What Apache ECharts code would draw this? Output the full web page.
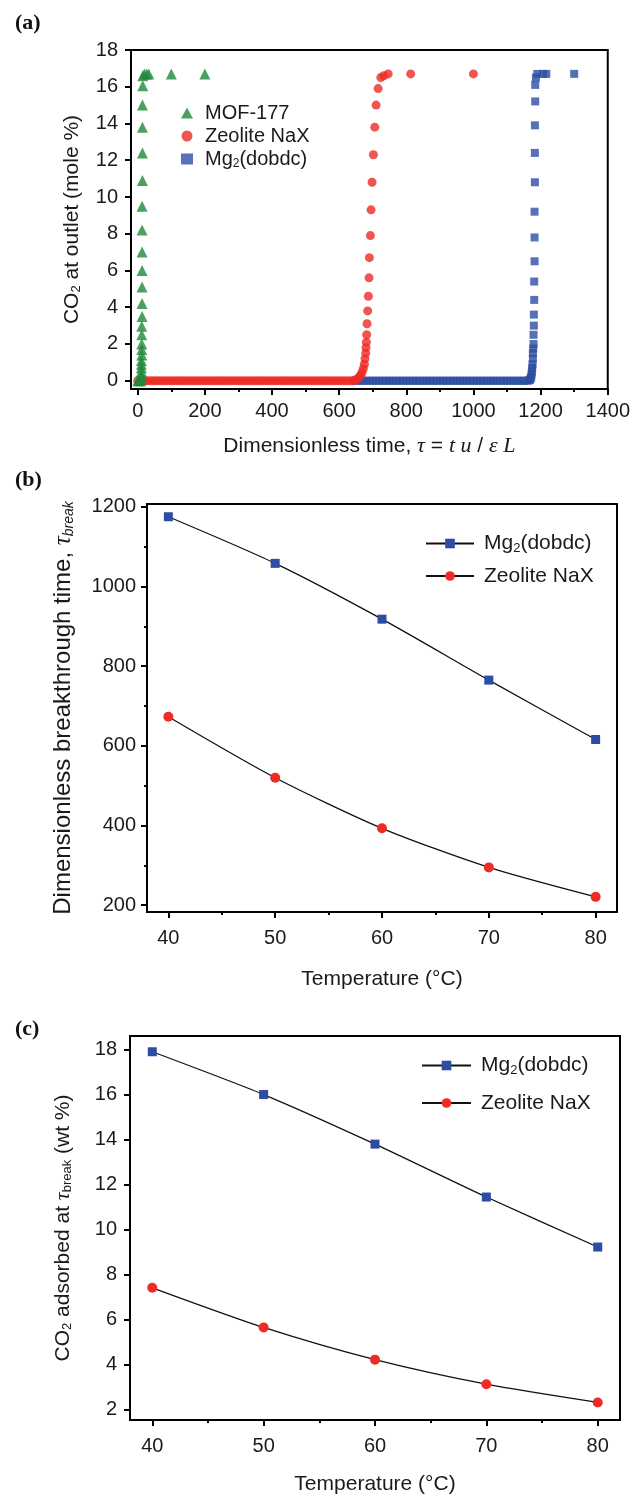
<!DOCTYPE html>
<html>
<head>
<meta charset="utf-8">
<script src="https://cdn.jsdelivr.net/npm/echarts@6/dist/echarts.min.js"></script>
<style>
  body { margin: 0; background: #fff; }
  .panel { position: absolute; left: 0; width: 633px; }
</style>
</head>
<body>
<div id="chartA" class="panel" style="top:0;height:462px"></div>
<div id="chartB" class="panel" style="top:462px;height:533px"></div>
<div id="chartC" class="panel" style="top:995px;height:505px"></div>
<script>
// ---------- panel (a): breakthrough curves, [tau, CO2 mole %] ----------
const mofCurve = [
  [0, 0], [4, 0], [8, 0], [10, 0.05], [10, 0.15], [11, 0.3], [11, 0.5], [11, 0.7], [11, 0.9],
  [11, 1.1], [12, 1.4], [12, 1.7], [12, 2.0], [12, 2.5], [12, 2.96], [13, 3.5], [13, 4.2],
  [13, 5.1], [13, 6.0], [13, 7.0], [13, 8.2], [13, 9.5], [14, 10.9], [14, 12.4], [14, 13.8],
  [14, 15.0], [15, 16.05], [15, 16.6], [20, 16.7], [27, 16.7], [33, 16.7], [100, 16.7], [200, 16.7]
];
// flat part of the NaX curve (y = 0)
const zeoliteBaseX = [
  0, 10, 20, 30, 40, 50, 60, 70, 80, 90, 100, 110, 120, 130, 140, 150, 160, 170, 180, 190,
  200, 210, 220, 230, 240, 250, 260, 270, 280, 290, 300, 310, 320, 330, 340, 350, 360, 370,
  380, 390, 400, 410, 420, 430, 440, 450, 460, 470, 480, 490, 500, 510, 520, 530, 540, 550,
  560, 570, 580, 590, 600, 610, 620, 630, 640
];
const zeoliteCurve = [
  [645, 0.02], [650, 0.05], [655, 0.1], [660, 0.2], [664, 0.3], [668, 0.45], [672, 0.65],
  [675, 0.9], [677, 1.2], [679, 1.5], [680, 1.8], [681, 2.1], [682, 2.5], [683, 3.1],
  [685, 3.8], [687, 4.6], [689, 5.6], [690, 6.7], [693, 7.9], [695, 9.3], [698, 10.8],
  [702, 12.3], [706, 13.8], [710, 15.0], [716, 15.9], [724, 16.5], [733, 16.6], [746, 16.7],
  [813, 16.7], [1000, 16.7]
];
// flat part of the Mg2(dobdc) curve (y = 0)
const mgBaseX = [
  650, 660, 670, 680, 690, 700, 710, 720, 730, 740, 750, 760, 770, 780, 790, 800, 810, 820,
  830, 840, 850, 860, 870, 880, 890, 900, 910, 920, 930, 940, 950, 960, 970, 980, 990, 1000,
  1010, 1020, 1030, 1040, 1050, 1060, 1070, 1080, 1090, 1100, 1110, 1120, 1130, 1140, 1150, 1160
];
const mgCurve = [
  [1165, 0.02], [1168, 0.05], [1170, 0.1], [1172, 0.2], [1173, 0.35], [1174, 0.5], [1175, 0.7],
  [1176, 0.9], [1177, 1.2], [1177, 1.5], [1178, 1.75], [1179, 2.0], [1179, 2.5], [1180, 3.0],
  [1180, 3.6], [1181, 4.4], [1181, 5.4], [1182, 6.5], [1182, 7.8], [1182, 9.2], [1183, 10.8],
  [1183, 12.4], [1183, 13.9], [1184, 15.2], [1184, 16.1], [1186, 16.5], [1190, 16.7],
  [1207, 16.7], [1217, 16.7], [1300, 16.7]
];
const tickA_x = [0, 200, 400, 600, 800, 1000, 1200, 1400];
const minorA_x = [100, 300, 500, 700, 900, 1100, 1300];
const tickA_y = [0, 2, 4, 6, 8, 10, 12, 14, 16, 18];

// ---------- panels (b) and (c): vs temperature ----------
const temps = [40, 50, 60, 70, 80];
const breakMg = [1175, 1058, 918, 765, 616];
const breakNaX = [673, 520, 393, 295, 221];
const adsMg = [17.9, 16.0, 13.8, 11.45, 9.23];
const adsNaX = [7.42, 5.66, 4.23, 3.14, 2.33];
const tickT = [40, 50, 60, 70, 80];
const minorT = [45, 55, 65, 75];
const tickB_y = [200, 400, 600, 800, 1000, 1200];
const minorB_y = [300, 500, 700, 900, 1100];
const tickC_y = [2, 4, 6, 8, 10, 12, 14, 16, 18];

const SANS = 'Liberation Sans, Arial, sans-serif';
const SERIF = 'Liberation Serif, Times New Roman, serif';
const GREEN = '#1f8a3b';
const RED = '#ee2b25';
const BLUE = '#2c4da3';
const TXT = '#1a1a1a';

function richSet(size) {
  const sub = Math.round(size * 0.6);
  return {
    t: { fontSize: size, fontFamily: SANS, color: TXT },
    s: { fontSize: sub, fontFamily: SANS, color: TXT, padding: [Math.round(size * 0.45), 0, 0, 0] },
    si: { fontSize: sub, fontFamily: SANS, fontStyle: 'italic', color: TXT, padding: [Math.round(size * 0.45), 0, 0, 0] },
    g: { fontSize: size + 1, fontFamily: SERIF, fontStyle: 'italic', color: TXT }
  };
}
const legendFmt = name => name === 'Mg2(dobdc)' ? '{t|Mg}{s|2}{t|(dobdc)}' : '{t|' + name + '}';

// main axis with labels + a second, label-less axis that only carries minor ticks
function axisPair(dim, min, max, ticks, minor, margin, extra) {
  const main = Object.assign({
    type: 'value', min: min, max: max,
    axisLine: { onZero: false, lineStyle: { color: '#000', width: 2 } },
    axisTick: { customValues: ticks, length: 6, lineStyle: { color: '#000', width: 2 } },
    axisLabel: {
      customValues: ticks, fontSize: 20, fontFamily: SANS, color: TXT, margin: margin,
      formatter: v => String(v)
    },
    splitLine: { show: false }
  }, extra);
  const minorAxis = {
    type: 'value', min: min, max: max,
    position: dim === 'x' ? 'bottom' : 'left',
    axisLine: { show: false, onZero: false },
    axisTick: { show: !!minor, customValues: minor || [], length: 3, lineStyle: { color: '#000', width: 2 } },
    axisLabel: { show: false },
    splitLine: { show: false }
  };
  return [main, minorAxis];
}

function panelTitle(text, top) {
  return { text: text, left: 10, top: top, textStyle: { fontFamily: SERIF, fontWeight: 'bold', fontSize: 22, color: '#111' } };
}

// ---------- (a) ----------
const chartA = echarts.init(document.getElementById('chartA'));
const scatterBase = { type: 'scatter', xAxisIndex: 0, yAxisIndex: 0, symbolKeepAspect: true };
chartA.setOption({
  animation: false,
  title: panelTitle('(a)', 7),
  grid: { left: 131, top: 50, width: 479, height: 341, show: true, borderColor: '#000', borderWidth: 2 },
  xAxis: axisPair('x', -20, 1400, tickA_x, minorA_x, 12, {
    name: '{t|Dimensionless time, }{g|τ}{t| = }{g|t u}{t| / }{g|ε L}',
    nameLocation: 'middle', nameGap: 46, nameTextStyle: { rich: richSet(21) }
  }),
  yAxis: axisPair('y', -0.45, 18, tickA_y, null, 13, {
    name: '{t|CO}{s|2}{t| at outlet (mole %)}',
    nameLocation: 'middle', nameGap: 48, nameTextStyle: { rich: richSet(21) }
  }),
  legend: {
    orient: 'vertical', left: 176, top: 98, itemWidth: 12, itemHeight: 11, itemGap: 3,
    data: ['MOF-177', 'Zeolite NaX', 'Mg2(dobdc)'],
    formatter: legendFmt,
    textStyle: { padding: [0, 0, 0, 7], rich: richSet(20) }
  },
  series: [
    Object.assign({}, scatterBase, {
      name: 'MOF-177', symbol: 'triangle', symbolSize: 11, z: 4,
      itemStyle: { color: GREEN }, data: mofCurve
    }),
    Object.assign({}, scatterBase, {
      name: 'Zeolite NaX', symbol: 'circle', symbolSize: 9, z: 3,
      itemStyle: { color: RED },
      data: zeoliteBaseX.map(x => [x, 0]).concat(zeoliteCurve)
    }),
    Object.assign({}, scatterBase, {
      name: 'Mg2(dobdc)', symbol: 'rect', symbolSize: 8, z: 2,
      itemStyle: { color: BLUE },
      data: mgBaseX.map(x => [x, 0]).concat(mgCurve)
    })
  ]
});

// ---------- (b) and (c) ----------
function tempSeries(mgVals, naxVals) {
  const line = { type: 'line', xAxisIndex: 0, yAxisIndex: 0, smooth: 0.25,
    lineStyle: { color: '#111', width: 1.3 } };
  return [
    Object.assign({}, line, {
      name: 'Mg2(dobdc)', symbol: 'rect', symbolSize: 9, z: 3,
      itemStyle: { color: BLUE }, data: temps.map((t, i) => [t, mgVals[i]])
    }),
    Object.assign({}, line, {
      name: 'Zeolite NaX', symbol: 'circle', symbolSize: 10, z: 3,
      itemStyle: { color: RED }, data: temps.map((t, i) => [t, naxVals[i]])
    })
  ];
}

const chartB = echarts.init(document.getElementById('chartB'));
chartB.setOption({
  animation: false,
  title: panelTitle('(b)', 2),
  grid: { left: 147, top: 42, width: 470, height: 420, show: true, borderColor: '#000', borderWidth: 2 },
  xAxis: axisPair('x', 38, 82, tickT, minorT, 16, {
    name: '{t|Temperature (°C)}', nameLocation: 'middle', nameGap: 57, nameTextStyle: { rich: richSet(21) }
  }),
  yAxis: axisPair('y', 183, 1207, tickB_y, minorB_y, 11, {
    name: '{t|Dimensionless breakthrough time, }{g|τ}{si|break}',
    nameLocation: 'middle', nameGap: 71, nameTextStyle: { rich: richSet(24) }
  }),
  legend: {
    orient: 'vertical', left: 420, top: 66, itemWidth: 48, itemHeight: 12, itemGap: 11,
    data: ['Mg2(dobdc)', 'Zeolite NaX'],
    formatter: legendFmt,
    textStyle: { padding: [0, 0, 0, 5], rich: richSet(21) }
  },
  series: tempSeries(breakMg, breakNaX)
});

const chartC = echarts.init(document.getElementById('chartC'));
chartC.setOption({
  animation: false,
  title: panelTitle('(c)', 18),
  grid: { left: 130, top: 41, width: 490, height: 388, show: true, borderColor: '#000', borderWidth: 2 },
  xAxis: axisPair('x', 38, 82, tickT, minorT, 16, {
    name: '{t|Temperature (°C)}', nameLocation: 'middle', nameGap: 54, nameTextStyle: { rich: richSet(21) }
  }),
  yAxis: axisPair('y', 1.55, 18.6, tickC_y, null, 13, {
    name: '{t|CO}{s|2}{t| adsorbed at }{g|τ}{s|break}{t| (wt %)}',
    nameLocation: 'middle', nameGap: 56, nameTextStyle: { rich: richSet(21) }
  }),
  legend: {
    orient: 'vertical', left: 416, top: 55, itemWidth: 49, itemHeight: 12, itemGap: 16,
    data: ['Mg2(dobdc)', 'Zeolite NaX'],
    formatter: legendFmt,
    textStyle: { padding: [0, 0, 0, 5], rich: richSet(21) }
  },
  series: tempSeries(adsMg, adsNaX)
});
</script>
</body>
</html>
